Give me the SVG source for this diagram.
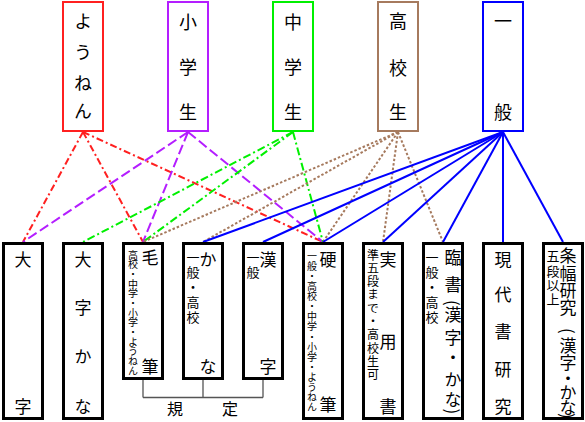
<svg xmlns="http://www.w3.org/2000/svg" width="585" height="422" viewBox="0 0 585 422">
<style>
.bg{fill:#fff}
.tb{fill:#fff;stroke-width:2}
.bb{fill:#fff;stroke:#000;stroke-width:3}
.v{writing-mode:vertical-rl;font-family:"Noto Sans CJK JP","Noto Sans CJK SC",sans-serif;fill:#000}
.t18{font-size:18px}
.t17{font-size:17px}
.t13{font-size:13px}
.t12{font-size:12px}
.t10{font-size:10px}
.h{font-family:"Noto Sans CJK JP","Noto Sans CJK SC",sans-serif;font-size:16px;text-anchor:middle;fill:#000}
.c{fill:none;stroke-width:2}
.red{stroke:#ff2020;stroke-dasharray:7 3 2 3}
.pur{stroke:#b41eff;stroke-dasharray:10 4}
.grn{stroke:#00f000;stroke-dasharray:8 3 2 3}
.brn{stroke:#a67a5e;stroke-dasharray:2.5 2}
.blu{stroke:#0000ff}
.br{fill:none;stroke:#555;stroke-width:1.3}
</style>
<rect class="bg" x="0" y="0" width="585" height="422"/>

<g id="connectors">
  <g id="from-younen">
    <line class="c red" x1="83" y1="132" x2="23" y2="242"/>
    <line class="c red" x1="83" y1="132" x2="143" y2="242"/>
    <line class="c red" x1="83" y1="132" x2="323" y2="242"/>
  </g>
  <g id="from-shougakusei">
    <line class="c pur" x1="188" y1="132" x2="23" y2="242"/>
    <line class="c pur" x1="188" y1="132" x2="143" y2="242"/>
    <line class="c pur" x1="188" y1="132" x2="323" y2="242"/>
  </g>
  <g id="from-chuugakusei">
    <line class="c grn" x1="293" y1="132" x2="83" y2="242"/>
    <line class="c grn" x1="293" y1="132" x2="143" y2="242"/>
    <line class="c grn" x1="293" y1="132" x2="323" y2="242"/>
  </g>
  <g id="from-koukousei">
    <line class="c brn" x1="398" y1="132" x2="143" y2="242"/>
    <line class="c brn" x1="398" y1="132" x2="203" y2="242"/>
    <line class="c brn" x1="398" y1="132" x2="323" y2="242"/>
    <line class="c brn" x1="398" y1="132" x2="383" y2="242"/>
    <line class="c brn" x1="398" y1="132" x2="443" y2="242"/>
  </g>
  <g id="from-ippan">
    <line class="c blu" x1="503" y1="132" x2="203" y2="242"/>
    <line class="c blu" x1="503" y1="132" x2="263" y2="242"/>
    <line class="c blu" x1="503" y1="132" x2="323" y2="242"/>
    <line class="c blu" x1="503" y1="132" x2="383" y2="242"/>
    <line class="c blu" x1="503" y1="132" x2="443" y2="242"/>
    <line class="c blu" x1="503" y1="132" x2="503" y2="242"/>
    <line class="c blu" x1="503" y1="132" x2="563" y2="242"/>
  </g>
  <g id="kitei-bracket">
    <path class="br" d="M143 380V397.5M203 380V397.5M263 380V397.5M143 397.5H263"/>
  </g>
</g>

<g id="younen">
  <rect class="tb" x="63" y="2" width="40" height="129" stroke="#ff2020"/>
  <text class="v t18" x="83" y="12.5 43.5 74.5 102.5">ようねん</text>
</g>
<g id="shougakusei">
  <rect class="tb" x="168" y="2" width="40" height="129" stroke="#b41eff"/>
  <text class="v t18" x="188" y="13.5 58 103">小学生</text>
</g>
<g id="chuugakusei">
  <rect class="tb" x="273" y="2" width="40" height="129" stroke="#00f000"/>
  <text class="v t18" x="293" y="13.5 58 103">中学生</text>
</g>
<g id="koukousei">
  <rect class="tb" x="378" y="2" width="40" height="129" stroke="#a67a5e"/>
  <text class="v t18" x="398" y="12.5 59 103">高校生</text>
</g>
<g id="ippan">
  <rect class="tb" x="483" y="2" width="40" height="129" stroke="#0000ff"/>
  <text class="v t18" x="503" y="12 103">一般</text>
</g>

<g id="daiji">
  <rect class="bb" x="3.5" y="243.5" width="39" height="175"/>
  <text class="v t17" x="23" y="251.5 398.5">大字</text>
</g>
<g id="daiji-kana">
  <rect class="bb" x="63.5" y="243.5" width="39" height="175"/>
  <text class="v t17" x="83" y="251.5 299.5 348.5 398.5">大字かな</text>
</g>
<g id="mouhitsu">
  <rect class="bb" x="123.5" y="243.5" width="39" height="135"/>
  <text class="v t17" x="150" y="249.5 358.5">毛筆</text>
  <text class="v t10" x="133" y="250 259.7 269.3 279 288.7 298.3 308 317.7 327.4 337 346.7 356.4 366">高校・中学・小学・ようねん</text>
</g>
<g id="kana">
  <rect class="bb" x="183.5" y="243.5" width="39" height="135"/>
  <text class="v t17" x="208" y="251.5 358.5">かな</text>
  <text class="v t13" x="193" y="250.5 265.5 280.5 295.5 310.5">一般・高校</text>
</g>
<g id="kanji">
  <rect class="bb" x="243.5" y="243.5" width="39" height="135"/>
  <text class="v t17" x="268" y="251.5 358.5">漢字</text>
  <text class="v t13" x="253" y="250.5 265.5">一般</text>
</g>
<g id="kouhitsu">
  <rect class="bb" x="303.5" y="243.5" width="39" height="175"/>
  <text class="v t17" x="328" y="251.5 396.5">硬筆</text>
  <text class="v t10" x="312" y="251 261.1 271.2 281.3 291.4 301.5 311.6 321.7 331.8 341.9 352 362.1 372.2 382.3 392.4 402.5">一般・高校・中学・小学・ようねん</text>
</g>
<g id="jitsuyousho">
  <rect class="bb" x="363.5" y="243.5" width="39" height="175"/>
  <text class="v t17" x="388" y="251.5 333.5 398.5">実用書</text>
  <text class="v t12" x="373" y="249 262.3 275.6 288.9 302.2 315.5 328.8 342.1 355.4 368.7">準五段まで・高校生可</text>
</g>
<g id="rinsho">
  <rect class="bb" x="423.5" y="243.5" width="39" height="175"/>
  <text class="v t17" x="453" y="249.5 276.5 300 306.5 329.5 349.5 371.5 391.5 408.5">臨書(漢字・かな)</text>
  <text class="v t13" x="432" y="250.5 265.5 280.5 295.5 310.5">一般・高校</text>
</g>
<g id="gendaisho-kenkyuu">
  <rect class="bb" x="483.5" y="243.5" width="39" height="175"/>
  <text class="v t17" x="503" y="251.5 286.5 323.5 361.5 398.5">現代書研究</text>
</g>
<g id="jouhuku-kenkyuu">
  <rect class="bb" x="543.5" y="243.5" width="39" height="175"/>
  <text class="v t17" x="568" y="247.5 265.5 282.5 299.5 328 337.5 354.5 370.5 384.5 399.5 413">条幅研究(漢字・かな)</text>
  <text class="v t13" x="553" y="249.5 264.5 278.5 292.5">五段以上</text>
</g>

<g id="kitei">
  <text class="h" x="175" y="415">規</text>
  <text class="h" x="230" y="415">定</text>
</g>
</svg>
